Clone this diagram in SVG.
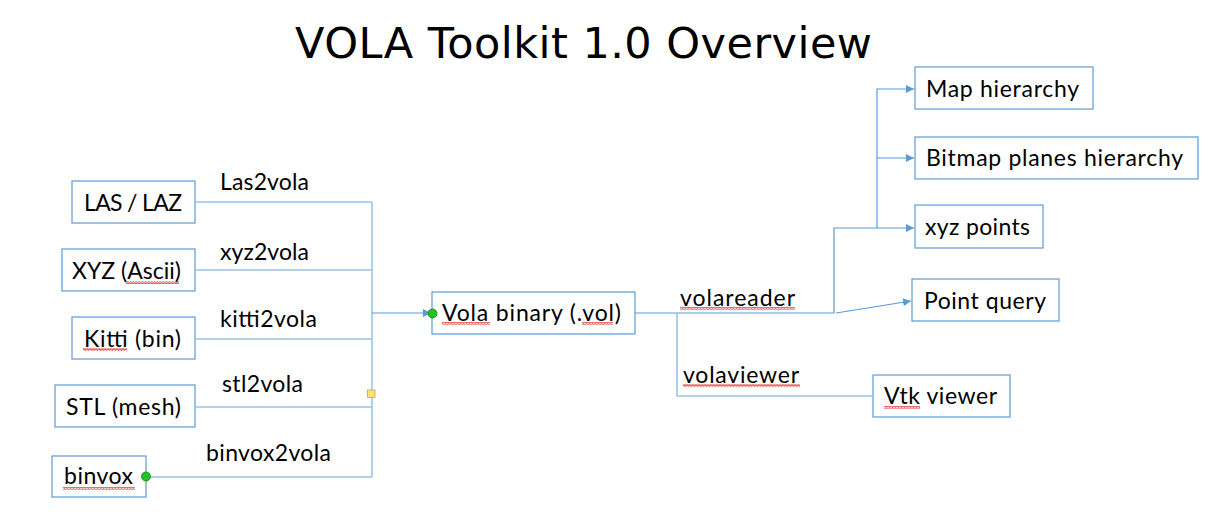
<svg xmlns="http://www.w3.org/2000/svg" width="1230" height="527" viewBox="0 0 1230 527">
<style>
.box{fill:#fff;stroke:#5B9BD5;stroke-width:1.2}
.t{font-family:Lato,"Liberation Sans",sans-serif;font-size:23px;fill:#000}
.ttl{font-family:"DejaVu Sans",sans-serif;font-size:43px;fill:#000}
.c{fill:none;stroke:#5B9BD5;stroke-width:1.2}
.cl{fill:none;stroke:#9DC3E6;stroke-width:1.6}
.sq{fill:url(#wave)}
</style>
<defs>
<marker id="arr" viewBox="0 0 10 10" refX="10" refY="5" markerWidth="8" markerHeight="8" markerUnits="userSpaceOnUse" orient="auto">
<path d="M0,0 L10,5 L0,10 z" fill="#5B9BD5"/>
</marker>
<pattern id="wave" width="3" height="3" patternUnits="userSpaceOnUse">
<path d="M0,2.6 L0.75,0.4 L1.5,2.6 L2.25,0.4 L3,2.6" fill="none" stroke="#E03030" stroke-width="0.7"/>
</pattern>
</defs>
<rect width="1230" height="527" fill="#fff"/>
<text class="ttl" x="295" y="58" textLength="577">VOLA Toolkit 1.0 Overview</text>

<g id="las"><rect class="box" x="72" y="181" width="123" height="42"/><text class="t" x="84" y="211" textLength="98">LAS / LAZ</text></g>
<g id="xyz"><rect class="box" x="62" y="249" width="133" height="42"/><text class="t" x="72" y="279" textLength="109">XYZ (Ascii)</text><rect class="sq" x="126" y="281" width="53" height="3"/></g>
<g id="kitti"><rect class="box" x="72" y="317" width="123" height="42"/><text class="t" x="84" y="347" textLength="97">Kitti (bin)</text><rect class="sq" x="83" y="348" width="44" height="3"/></g>
<g id="stl"><rect class="box" x="55" y="385" width="140" height="42"/><text class="t" x="66" y="415" textLength="115">STL (mesh)</text></g>
<g id="binvox"><rect class="box" x="52" y="456" width="94" height="41"/><text class="t" x="64" y="484" textLength="69">binvox</text><rect class="sq" x="63" y="487" width="72" height="3"/></g>
<g id="vola"><rect class="box" x="432" y="292" width="203" height="42"/><text class="t" x="442" y="321" textLength="179">Vola binary (.vol)</text><rect class="sq" x="442" y="322" width="48" height="3"/><rect class="sq" x="582" y="322" width="31" height="3"/></g>
<g id="map"><rect class="box" x="915" y="67" width="178" height="42"/><text class="t" x="926" y="97" textLength="153">Map hierarchy</text></g>
<g id="bitmap"><rect class="box" x="915" y="137" width="283" height="42"/><text class="t" x="926" y="166" textLength="257">Bitmap planes hierarchy</text></g>
<g id="xyzpoints"><rect class="box" x="915" y="205" width="128" height="43"/><text class="t" x="925" y="235" textLength="105">xyz points</text></g>
<g id="pointquery"><rect class="box" x="912" y="279" width="147" height="42"/><text class="t" x="924" y="309" textLength="122">Point query</text></g>
<g id="vtk"><rect class="box" x="873" y="375" width="137" height="42"/><text class="t" x="884" y="404" textLength="113">Vtk viewer</text><rect class="sq" x="884" y="406" width="36" height="3"/></g>

<g id="connectors">
<path class="cl" d="M195,202 H372"/>
<path class="cl" d="M195,270 H372"/>
<path class="cl" d="M195,339 H372"/>
<path class="cl" d="M195,407 H372"/>
<path class="cl" d="M146,477 H372"/>
<path class="cl" d="M372,202 V477"/>
<path class="c" d="M372,313 H431" marker-end="url(#arr)"/>
<path class="c" d="M635,313 H834 V228 H914" marker-end="url(#arr)"/>
<path class="c" d="M877,228 V89 H914" marker-end="url(#arr)"/>
<path class="c" d="M877,158 H914" marker-end="url(#arr)"/>
<path class="c" d="M836,313 L911,301" marker-end="url(#arr)"/>
<path class="cl" d="M677,313 V396 H873"/>
<rect x="367.5" y="390" width="7.5" height="7.5" fill="#FFE27A" stroke="#C9A445" stroke-width="0.8"/>
<circle cx="146" cy="476.5" r="4.5" fill="#22C322" stroke="#128012" stroke-width="0.8"/>
<circle cx="432.5" cy="313.5" r="4.5" fill="#22C322" stroke="#128012" stroke-width="0.8"/>
<text class="t" x="220" y="190" textLength="89">Las2vola</text>
<text class="t" x="220" y="260" textLength="89">xyz2vola</text>
<text class="t" x="220" y="327" textLength="97">kitti2vola</text>
<text class="t" x="222" y="392" textLength="81">stl2vola</text>
<text class="t" x="206" y="461" textLength="125">binvox2vola</text>
<text class="t" x="680" y="306" textLength="115">volareader</text>
<rect class="sq" x="680" y="307" width="115" height="3"/>
<text class="t" x="683" y="383" textLength="116">volaviewer</text>
<rect class="sq" x="683" y="384" width="117" height="3"/>
</g>
</svg>
